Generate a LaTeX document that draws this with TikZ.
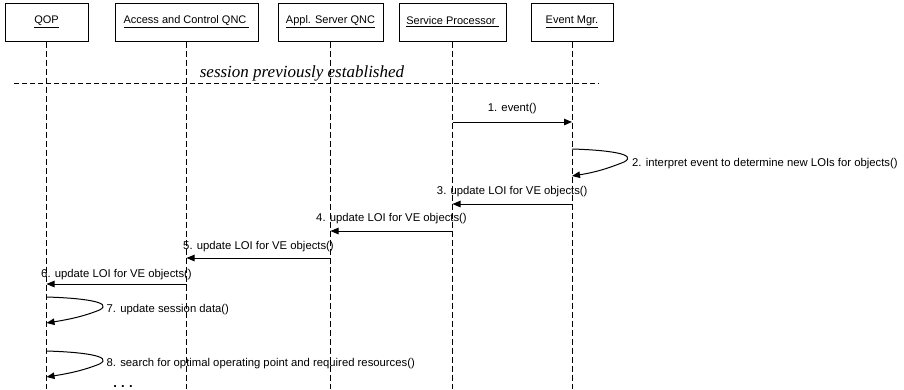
\documentclass[tikz,border=0pt]{standalone}
\usepackage{fontspec}
\setmainfont{Liberation Sans}
\newfontfamily\serifit{Liberation Serif}
\usetikzlibrary{arrows.meta}
\begin{document}
\begin{tikzpicture}[x=1pt,y=-1pt,
  obj/.style={draw,line width=1pt,minimum height=38pt,inner sep=0pt,font=\fontsize{11}{13}\selectfont},
  life/.style={line width=1pt,dash pattern=on 6pt off 3pt},
  msg/.style={line width=1pt,-{Triangle[length=8pt,width=6.5pt]}},
  lbl/.style={font=\fontsize{11.3}{13}\selectfont,inner sep=0pt}]
\useasboundingbox (0,0) rectangle (904,389);
% objects
\node[obj,minimum width=83pt] (qop) at (46.5,22) {\underline{QOP}};
\node[obj,minimum width=143pt] (acq) at (186.5,22) {\underline{Access and Control QNC\ }};
\node[obj,minimum width=105pt] (asq) at (330.5,22) {\underline{Appl. Server QNC}};
\node[obj,minimum width=107pt] (sp) at (452.5,22) {\underline{Service Processor\ }};
\node[obj,minimum width=82pt] (em) at (572,22) {\underline{Event Mgr.}};
% lifeline ends
\coordinate (qopE) at (qop.south |- 0,389);
\coordinate (acqE) at (acq.south |- 0,389);
\coordinate (asqE) at (asq.south |- 0,389);
\coordinate (spE) at (sp.south |- 0,389);
\coordinate (emE) at (em.south |- 0,389);
\foreach \o in {qop,acq,asq,sp,em}{\draw[life] (\o.south) -- (\o E);}
% separator
\coordinate (sepL) at (14,83);
\coordinate (sepR) at (599,83);
\draw[line width=1pt,dash pattern=on 5pt off 3pt] (sepL) -- (sepR);
\node[font=\serifit\itshape\fontsize{17}{19}\selectfont,anchor=base,inner sep=0pt] (sess) at (302,77) {session previously established};
% message points
\coordinate (sp1) at (sp.south |- 0,122);
\coordinate (em1) at (em.south |- 0,122);
\coordinate (em2a) at (em.south |- 0,149);
\coordinate (em2b) at (em.south |- 0,176);
\coordinate (em3) at (em.south |- 0,204);
\coordinate (sp3) at (sp.south |- 0,204);
\coordinate (sp4) at (sp.south |- 0,231);
\coordinate (asq4) at (asq.south |- 0,231);
\coordinate (asq5) at (asq.south |- 0,258);
\coordinate (acq5) at (acq.south |- 0,258);
\coordinate (acq6) at (acq.south |- 0,284);
\coordinate (qop6) at (qop.south |- 0,284);
\coordinate (qop7a) at (qop.south |- 0,297);
\coordinate (qop7b) at (qop.south |- 0,323);
\coordinate (qop8a) at (qop.south |- 0,351);
\coordinate (qop8b) at (qop.south |- 0,377);
% messages
\draw[msg] (sp1) -- node[lbl,above=8pt] {1. event()} (em1);
\draw[msg] (em2a) .. controls ++(35,1) and ++(15,-8) .. ++(52,13) coordinate (ap2) .. controls ++(-15,6) and ++(25,-4) .. (em2b);
\node[lbl,anchor=west] (l2) at ([xshift=8pt,yshift=-1.5pt]ap2) {2. interpret event to determine new LOIs for objects()};
\draw[msg] (em3) -- node[lbl,above=7pt] {3. update LOI for VE objects()} (sp3);
\draw[msg] (sp4) -- node[lbl,above=7pt] {4. update LOI for VE objects()} (asq4);
\draw[msg] (asq5) -- node[lbl,above=6pt] {5. update LOI for VE objects()} (acq5);
\draw[msg] (acq6) -- node[lbl,above=4pt] {6. update LOI for VE objects()} (qop6);
\draw[msg] (qop7a) .. controls ++(35,1) and ++(15,-8) .. ++(53,13) coordinate (ap7) .. controls ++(-15,6) and ++(25,-4) .. (qop7b);
\node[lbl,anchor=west] (l7) at ([xshift=7pt]ap7) {7. update session data()};
\draw[msg] (qop8a) .. controls ++(35,1) and ++(15,-8) .. ++(53,13) coordinate (ap8) .. controls ++(-15,6) and ++(25,-4) .. (qop8b);
\node[lbl,anchor=west] (l8) at ([xshift=7pt]ap8) {8. search for optimal operating point and required resources()};
\node[font=\bfseries\fontsize{13}{13}\selectfont,anchor=base,inner sep=0pt] (dots) at (123,387) {.\,\,.\,\,.};
\end{tikzpicture}
\end{document}
